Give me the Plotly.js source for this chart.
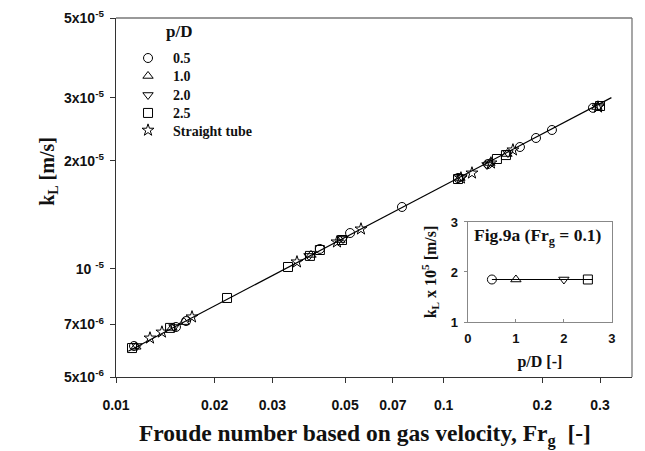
<!DOCTYPE html>
<html><head><meta charset="utf-8">
<script src="https://cdn.plot.ly/plotly-3.0.1.min.js"></script>
<style>html,body{margin:0;padding:0;background:#fff}#chart{width:645px;height:451px}</style>
</head><body><div id="chart"></div>
<script>
// ---- Main plot data: Froude number (x) vs kL [m/s] (y) ----
const seriesNames = ["0.5", "1.0", "2.0", "2.5", "Straight tube"];

const frPD05 = [0.01135, 0.01524, 0.01636, 0.0419, 0.0518, 0.0746, 0.1106, 0.1365, 0.1709, 0.1913, 0.214, 0.2855];
const kLPD05 = [6.10e-6, 6.89e-6, 7.16e-6, 1.137e-5, 1.259e-5, 1.488e-5, 1.792e-5, 1.96e-5, 2.186e-5, 2.316e-5, 2.438e-5, 2.81e-5];

const frPD10 = [0.0115, 0.01482, 0.01613, 0.03936, 0.04826, 0.1121, 0.1384, 0.156, 0.2936];
const kLPD10 = [6.07e-6, 6.85e-6, 7.11e-6, 1.094e-5, 1.204e-5, 1.792e-5, 1.973e-5, 2.09e-5, 2.825e-5];

const frPD20 = [0.01159, 0.01503, 0.03881, 0.04928, 0.1137, 0.1356, 0.1571, 0.2978];
const kLPD20 = [6.10e-6, 6.89e-6, 1.087e-5, 1.212e-5, 1.803e-5, 1.948e-5, 2.103e-5, 2.843e-5];

const frPD25 = [0.01119, 0.01462, 0.02182, 0.03349, 0.03908, 0.0419, 0.04894, 0.1106, 0.1454, 0.1549, 0.3];
const kLPD25 = [6.02e-6, 6.85e-6, 8.30e-6, 1.0125e-5, 1.087e-5, 1.129e-5, 1.204e-5, 1.78e-5, 2.024e-5, 2.076e-5, 2.843e-5];

const frStraight = [0.0127, 0.01381, 0.01706, 0.03567, 0.04725, 0.05593, 0.1129, 0.122, 0.1394, 0.1627, 0.2957];
const kLStraight = [6.42e-6, 6.67e-6, 7.35e-6, 1.046e-5, 1.189e-5, 1.292e-5, 1.792e-5, 1.85e-5, 1.973e-5, 2.145e-5, 2.825e-5];

const fitFr = [0.0109, 0.325];
const fitKL = [5.9e-6, 3.0e-5];

const xTickVals = [0.01, 0.02, 0.03, 0.05, 0.07, 0.1, 0.2, 0.3];
const xTickText = ["0.01", "0.02", "0.03", "0.05", "0.07", "0.1", "0.2", "0.3"];
const yTickVals = [5e-6, 7e-6, 1e-5, 2e-5, 3e-5, 5e-5];
const yTickText = ["5x10<sup>-6</sup>", "7x10<sup>-6</sup>", "10 <sup>-5</sup>", "2x10<sup>-5</sup>", "3x10<sup>-5</sup>", "5x10<sup>-5</sup>"];

// ---- Inset (Fig.9a, Frg = 0.1) ----
const insetPD = [0.5, 1.0, 2.0, 2.5];
const insetKL = [1.85, 1.85, 1.85, 1.85];
const insetLinePD = [0.5, 2.6];
const insetLineKL = [1.85, 1.85];
const insetXTicks = [0, 1, 2, 3];
const insetYTicks = [1, 2, 3];

const symbols = ["circle-open", "triangle-up-open", "triangle-down-open", "square-open", "star-open"];
const xs = [frPD05, frPD10, frPD20, frPD25, frStraight];
const ys = [kLPD05, kLPD10, kLPD20, kLPD25, kLStraight];

const serif = "Liberation Serif, Times New Roman, serif";
const sans = "Liberation Sans, Arial, sans-serif";

const legendIds = ["legend", "legend2", "legend3", "legend4", "legend5"];
const legendY = [0.932, 0.882, 0.829, 0.779, 0.731];

const traces = [{
  x: fitFr, y: fitKL, mode: "lines", type: "scatter",
  line: {color: "#000", width: 1.2}, showlegend: false, hoverinfo: "skip"
}];
for (let i = 0; i < 5; i++) {
  traces.push({
    x: xs[i], y: ys[i], name: seriesNames[i], mode: "markers", type: "scatter",
    legend: legendIds[i],
    marker: {symbol: symbols[i], size: 9, color: "#000", line: {color: "#000", width: 1}}
  });
}
traces.push({
  x: insetLinePD, y: insetLineKL, xaxis: "x2", yaxis: "y2", mode: "lines", type: "scatter",
  line: {color: "#000", width: 1.2}, showlegend: false
});
traces.push({
  x: insetPD, y: insetKL, xaxis: "x2", yaxis: "y2", mode: "markers", type: "scatter",
  marker: {symbol: symbols.slice(0, 4), size: 9, color: "#000", line: {color: "#000", width: 1}},
  showlegend: false
});

const layout = {
  width: 645, height: 451,
  margin: {l: 116, r: 13, t: 18, b: 74},
  paper_bgcolor: "#fff", plot_bgcolor: "#fff",
  showlegend: true,
  xaxis: {
    type: "log", range: [-2, Math.log10(0.3756)],
    tickvals: xTickVals, ticktext: xTickText,
    ticks: "outside", ticklen: 5, tickwidth: 1, tickcolor: "#333",
    showline: true, linecolor: "#333", linewidth: 1.3,
    showgrid: false, zeroline: false,
    ticklabelstandoff: 10,
    tickfont: {family: sans, size: 14, color: "#111", weight: "bold"}
  },
  yaxis: {
    type: "log", range: [Math.log10(5e-6), Math.log10(5e-5)],
    tickvals: yTickVals, ticktext: yTickText,
    ticks: "outside", ticklen: 5, tickwidth: 1, tickcolor: "#333",
    showline: true, linecolor: "#333", linewidth: 1.3,
    showgrid: false, zeroline: false,
    ticklabelstandoff: 3,
    tickfont: {family: sans, size: 14, color: "#111", weight: "bold"}
  },
  xaxis2: {
    domain: [0.682, 0.961], anchor: "y2", range: [0, 3],
    tickvals: insetXTicks, ticks: "inside", ticklen: 3, tickcolor: "#888",
    showline: true, mirror: true, linecolor: "#888", linewidth: 1.3,
    showgrid: false, zeroline: false,
    ticklabelstandoff: 4,
    tickfont: {family: sans, size: 13, color: "#111", weight: "bold"},
    title: {text: "p/D [-]", font: {family: serif, size: 16, color: "#111", weight: "bold"}, standoff: 11}
  },
  yaxis2: {
    domain: [0.1532, 0.4318], anchor: "x2", range: [1, 3],
    tickvals: insetYTicks, ticks: "outside", ticklen: 3, tickcolor: "#888",
    showline: true, mirror: true, linecolor: "#888", linewidth: 1.3,
    showgrid: false, zeroline: false,
    ticklabelstandoff: 3,
    tickfont: {family: sans, size: 13, color: "#111", weight: "bold"},
    title: {text: "k<sub>L</sub> x 10<sup>5</sup> [m/s]", font: {family: serif, size: 16, color: "#111", weight: "bold"}, standoff: 10}
  },
  shapes: [
    {type: "line", xref: "paper", yref: "paper", x0: 0, x1: 1, y0: 1, y1: 1, line: {color: "#777", width: 1.3}},
    {type: "line", xref: "paper", yref: "paper", x0: 1, x1: 1, y0: 0, y1: 1, line: {color: "#777", width: 1.3}}
  ],
  annotations: [
    {text: "k<sub>L</sub> [m/s]", xref: "paper", yref: "paper", x: -0.13, y: 0.574,
     textangle: -90, showarrow: false, xanchor: "center", yanchor: "middle",
     font: {family: serif, size: 20, color: "#111", weight: "bold"}},
    {text: "Froude number based on gas velocity, Fr<sub>g</sub>  [-]", xref: "paper", yref: "paper",
     x: 0.4826, y: -0.1616, showarrow: false, xanchor: "center", yanchor: "middle",
     font: {family: serif, size: 23.5, color: "#111", weight: "bold"}},
    {text: "p/D", xref: "paper", yref: "paper", x: 0.122, y: 0.962,
     showarrow: false, xanchor: "center", yanchor: "middle",
     font: {family: serif, size: 17, color: "#111", weight: "bold"}},
    {text: "Fig.9a (Fr<sub>g</sub> = 0.1)", xref: "paper", yref: "paper", x: 0.818, y: 0.39,
     showarrow: false, xanchor: "center", yanchor: "middle",
     font: {family: serif, size: 17.5, color: "#111", weight: "bold"}}
  ]
};
for (let i = 0; i < 5; i++) {
  layout[legendIds[i]] = {
    x: 0.0136, y: legendY[i], xanchor: "left", yanchor: "top",
    bgcolor: "rgba(0,0,0,0)", borderwidth: 0, itemwidth: 40,
    font: {family: serif, size: 14, color: "#111", weight: "bold"}
  };
}

Plotly.newPlot("chart", traces, layout, {displayModeBar: false, staticPlot: true});
</script>
</body></html>
